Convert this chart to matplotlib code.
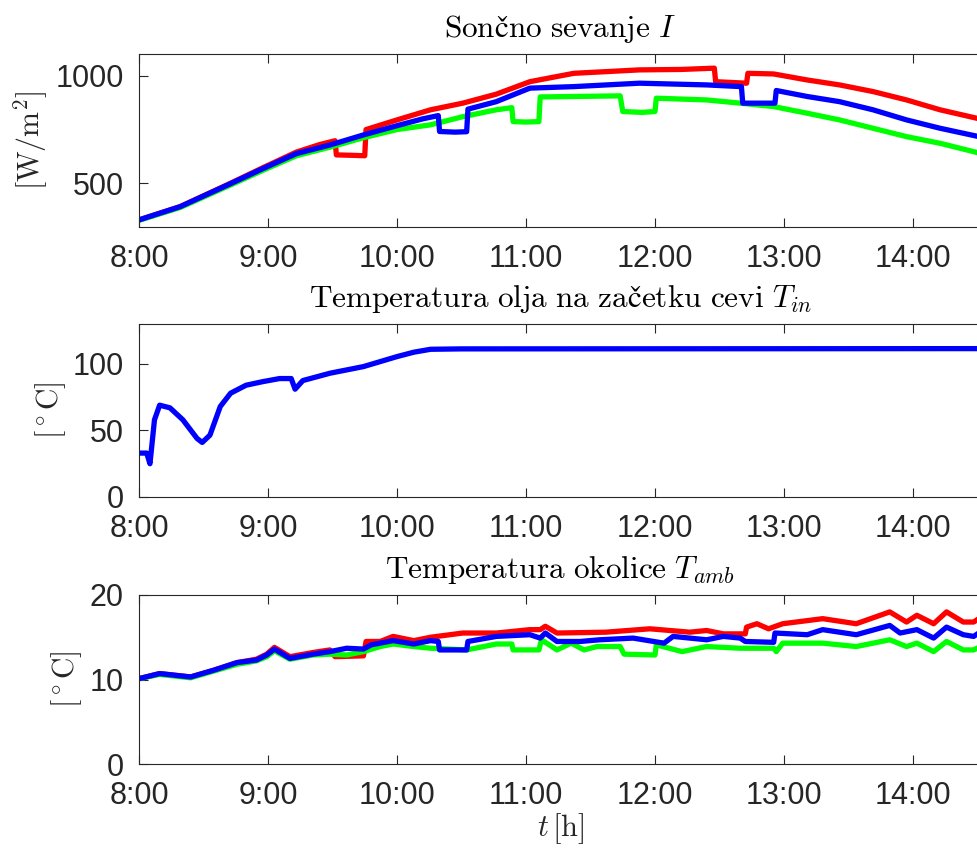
import matplotlib
matplotlib.use('Agg')
import matplotlib.pyplot as plt

plt.rcParams['font.family'] = ['Liberation Sans', 'DejaVu Sans']
plt.rcParams['mathtext.fontset'] = 'cm'

# --- data (time in hours) ---
# Soncno sevanje I [W/m^2]
t_I_red = [8.0, 8.32, 8.71, 8.96, 9.22, 9.40, 9.52, 9.53, 9.65, 9.75, 9.76, 10.0, 10.26, 10.51,
           10.77, 11.03, 11.37, 11.88, 12.20, 12.46, 12.47, 12.71, 12.72, 12.92, 13.18, 13.43,
           13.69, 13.95, 14.21, 14.55]
I_red = [329, 391, 500, 572, 645, 680, 698, 632, 630, 628, 750, 795, 842, 873,
         915, 973, 1012, 1028, 1030, 1036, 973, 966, 1012, 1009, 981, 958,
         927, 888, 842, 795]

t_I_green = [8.0, 8.32, 8.71, 8.96, 9.22, 9.48, 9.74, 10.0, 10.26, 10.51, 10.77, 10.89, 10.90,
             11.0, 11.10, 11.11, 11.37, 11.73, 11.75, 11.9, 12.0, 12.01, 12.40, 12.66, 12.92,
             13.18, 13.43, 13.69, 13.95, 14.21, 14.55]
I_green = [327, 387, 492, 560, 628, 668, 712, 750, 772, 810, 842, 852, 787,
           785, 787, 902, 904, 907, 834, 830, 834, 896, 888, 873, 857,
           826, 795, 756, 717, 686, 635]

t_I_blue = [8.0, 8.32, 8.71, 8.96, 9.22, 9.48, 9.74, 10.0, 10.2, 10.32, 10.33, 10.45, 10.54,
            10.55, 10.77, 11.03, 11.37, 11.88, 12.40, 12.67, 12.68, 12.93, 12.94, 13.18, 13.43,
            13.69, 13.95, 14.21, 14.55]
I_blue = [329, 391, 498, 568, 638, 678, 725, 768, 800, 815, 741, 738, 740,
          845, 880, 943, 950, 966, 958, 950, 873, 873, 932, 904, 880,
          842, 795, 756, 712]

# Temperatura olja na zacetku cevi T_in [degC]
t_Tin = [8.0, 8.06, 8.085, 8.12, 8.16, 8.24, 8.34, 8.45, 8.49, 8.55, 8.63, 8.71, 8.83, 8.96,
         9.09, 9.18, 9.21, 9.27, 9.48, 9.74, 10.0, 10.13, 10.26, 10.5, 14.55]
T_in = [33, 33, 25, 58, 69, 67, 58, 44, 41, 46.5, 68, 78, 84, 86.7,
        89, 89, 81, 87.5, 93, 98, 105.5, 108.8, 111, 111.3, 111.5]

# Temperatura okolice T_amb [degC]
t_Ta_red = [8.0, 8.16, 8.40, 8.58, 8.76, 8.91, 8.99, 9.05, 9.17, 9.35, 9.48, 9.52, 9.74, 9.76,
            9.87, 9.97, 10.13, 10.26, 10.51, 10.77, 11.03, 11.11, 11.15, 11.24, 11.62, 11.96,
            12.27, 12.40, 12.53, 12.70, 12.71, 12.79, 12.88, 12.99, 13.30, 13.56, 13.82, 13.95,
            14.03, 14.16, 14.26, 14.39, 14.47, 14.55]
Ta_red = [10.1, 10.7, 10.3, 11.1, 12.0, 12.4, 13.0, 13.8, 12.7, 13.2, 13.5, 12.7, 12.8, 14.5,
          14.5, 15.1, 14.6, 15.0, 15.5, 15.5, 15.9, 15.9, 16.3, 15.5, 15.6, 16.0,
          15.6, 15.8, 15.4, 15.4, 16.2, 16.6, 16.0, 16.6, 17.2, 16.6, 18.0, 16.8,
          17.6, 16.6, 18.0, 16.8, 16.8, 17.6]

t_Ta_green = [8.0, 8.16, 8.40, 8.58, 8.76, 8.91, 8.99, 9.05, 9.17, 9.35, 9.48, 9.61, 9.74, 9.87,
              9.97, 10.13, 10.26, 10.54, 10.77, 10.89, 10.90, 11.10, 11.12, 11.24, 11.35, 11.45,
              11.55, 11.73, 11.76, 12.00, 12.01, 12.21, 12.40, 12.66, 12.92, 12.94, 12.99, 13.30,
              13.56, 13.82, 13.95, 14.03, 14.16, 14.26, 14.39, 14.47, 14.55]
Ta_green = [10.1, 10.6, 10.2, 11.0, 11.8, 12.2, 12.7, 13.4, 12.4, 12.9, 13.0, 12.9, 13.3, 13.9,
            14.2, 13.9, 13.7, 13.5, 14.2, 14.2, 13.5, 13.5, 14.7, 13.5, 14.3, 13.5,
            13.9, 13.9, 13.0, 12.9, 14.1, 13.3, 13.9, 13.7, 13.7, 13.3, 14.3, 14.3,
            13.9, 14.7, 13.9, 14.3, 13.3, 14.5, 13.5, 13.5, 14.1]

t_Ta_blue = [8.0, 8.16, 8.40, 8.58, 8.76, 8.91, 8.99, 9.05, 9.17, 9.35, 9.48, 9.61, 9.74, 9.80,
             9.97, 10.13, 10.26, 10.32, 10.33, 10.54, 10.55, 10.77, 11.03, 11.11, 11.15, 11.24,
             11.42, 11.57, 11.83, 12.07, 12.14, 12.40, 12.53, 12.66, 12.70, 12.92, 12.93, 13.18,
             13.30, 13.56, 13.82, 13.90, 14.03, 14.16, 14.26, 14.39, 14.47, 14.55]
Ta_blue = [10.1, 10.7, 10.3, 11.1, 12.0, 12.3, 12.9, 13.6, 12.5, 13.0, 13.3, 13.7, 13.6, 14.1,
           14.6, 14.2, 14.6, 14.5, 13.5, 13.5, 14.5, 15.1, 15.3, 14.9, 15.5, 14.5,
           14.5, 14.7, 14.9, 14.3, 15.1, 14.7, 15.1, 14.9, 14.5, 14.4, 15.5, 15.3,
           15.9, 15.3, 16.4, 15.5, 15.9, 14.9, 16.2, 15.3, 15.1, 15.9]

hour_ticks = [8, 9, 10, 11, 12, 13, 14]
hour_labels = ['8:00', '9:00', '10:00', '11:00', '12:00', '13:00', '14:00']

titles = [r'$\mathrm{Sončno\ sevanje}\ I$',
          r'$\mathrm{Temperatura\ olja\ na\ začetku\ cevi}\ T_{in}$',
          r'$\mathrm{Temperatura\ okolice}\ T_{amb}$']
ylabels = [r'$[\mathrm{W/m^2}]$', r'$[^\circ\mathrm{C}]$', r'$[^\circ\mathrm{C}]$']

W, H = 978, 850
fig = plt.figure(figsize=(W / 100, H / 100), dpi=100)

left = 139
right = 982
x_max = 8 + (right - left) / 129.0
boxes = [(54, 227), (324, 497), (595, 764)]
ylims = [(296, 1102), (0, 130), (0, 20)]
yticks = [[500, 1000], [0, 50, 100], [0, 10, 20]]
label_x = [-0.106, -0.084, -0.065]

axes = []
for (top, bot) in boxes:
    ax = fig.add_axes([left / W, (H - bot) / H, (right - left) / W, (bot - top) / H])
    axes.append(ax)

lw = 3.8
ax1, ax2, ax3 = axes
ax1.plot(t_I_red, I_red, color='#ff0000', lw=lw)
ax1.plot(t_I_green, I_green, color='#00ff00', lw=lw)
ax1.plot(t_I_blue, I_blue, color='#0000ff', lw=lw)

ax2.plot(t_Tin, T_in, color='#0000ff', lw=lw)

ax3.plot(t_Ta_red, Ta_red, color='#ff0000', lw=lw)
ax3.plot(t_Ta_green, Ta_green, color='#00ff00', lw=lw)
ax3.plot(t_Ta_blue, Ta_blue, color='#0000ff', lw=lw)

for i, ax in enumerate(axes):
    ax.set_xlim(8, x_max)
    ax.set_ylim(*ylims[i])
    ax.set_xticks(hour_ticks)
    ax.set_xticklabels(hour_labels)
    ax.set_yticks(yticks[i])
    ax.tick_params(direction='in', length=6.5, width=0.8, colors='#262626',
                   labelsize=22, top=True, right=False)
    ax.tick_params(axis='x', pad=12)
    ax.tick_params(axis='y', pad=11)
    for s in ax.spines.values():
        s.set_color('#262626')
        s.set_linewidth(0.8)
    ax.set_title(titles[i], fontsize=22.5, pad=12, color='black')
    ax.set_ylabel(ylabels[i], fontsize=21.5, color='#262626')
    ax.yaxis.set_label_coords(label_x[i], 0.5)

ax3.set_xlabel(r'$t\,[\mathrm{h}]$', fontsize=22, color='#262626', labelpad=0)

fig.savefig('out.png', dpi=100)
